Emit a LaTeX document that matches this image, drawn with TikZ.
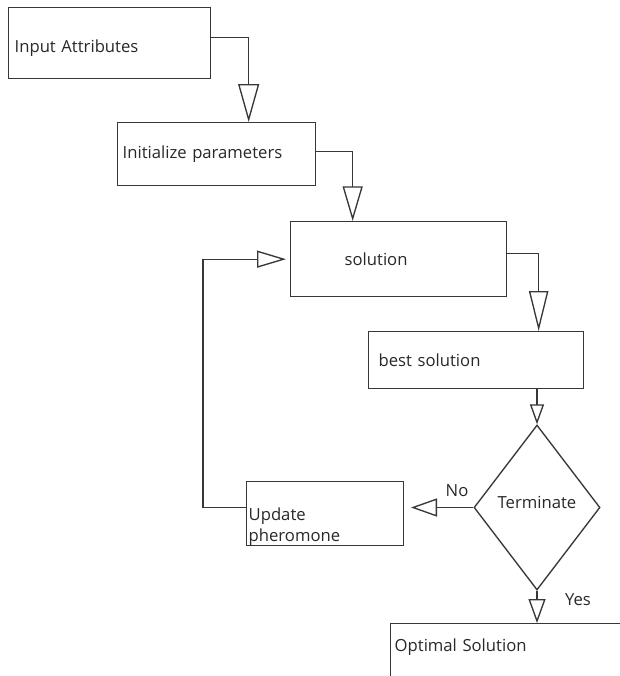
\documentclass[tikz,border=0pt]{standalone}
\usepackage{fontspec}
\setmainfont{Open Sans}
\usepackage{tikz}
\usetikzlibrary{arrows.meta, shapes.geometric}
\definecolor{LineGray}{RGB}{55,55,55}
\definecolor{TextGray}{RGB}{40,40,40}

\begin{document}
\begin{tikzpicture}[x=0.75pt, y=-0.75pt,
    txt/.style={text=TextGray, font=\fontsize{12.5}{15.75}\selectfont},
    box/.style={txt, draw=LineGray, line width=1pt, rectangle, anchor=north west,
                align=left, inner xsep=4.5pt},
    flow/.style 2 args={draw=LineGray, line width=1pt,
                        -{Triangle[open, length=#1, width=#2]}}]
  \useasboundingbox (0,0) rectangle (620,676);
  \fill[white] (0,0) rectangle (620,676);
  \clip (0,0) rectangle (620,676);

  \node[box, text width=142.5pt, minimum height=53.25pt, text height=16.5pt] (inp) at (8,7) {Input Attributes};
  \node[box, text width=141pt, inner xsep=3.75pt, minimum height=47.25pt] (init) at (117,122) {Initialize parameters};
  \node[box, text width=153pt, minimum height=56.25pt] (sol) at (290,221) {\hspace*{36pt}solution};
  \node[box, text width=152.25pt, minimum height=42.75pt] (best) at (368,331) {\hspace*{3pt}best solution};
  \node[txt, diamond, draw=LineGray, line width=1pt, inner sep=0pt, text depth=7.5pt,
        minimum width=94.5pt, minimum height=123.75pt] (term) at (537,507.5) {Terminate};
  \node[box, text width=114.75pt, inner xsep=1.5pt, inner ysep=2pt,
        text height=27pt, text depth=17pt] (upd) at (246,481) {Update\\pheromone};
  \node[box, text width=226.5pt, inner xsep=3pt, text height=17.25pt, text depth=45pt] (opt) at (390,623) {Optimal Solution};

  \node[txt] (no) at (457,491) {No};
  \node[txt] (yes) at (578,600) {Yes};

  \draw[flow={28.5pt}{15.75pt}] ([shift={(0,-5.5)}]inp.east) -| ([shift={(32,0)}]init.north);
  \draw[flow={26pt}{15pt}] ([shift={(0,-2.5)}]init.east) -| ([shift={(-46,0)}]sol.north);
  \draw[flow={30pt}{14.5pt}] ([shift={(0,-5.5)}]sol.east) -| ([shift={(62.5,0)}]best.north);
  \draw[flow={15pt}{10.5pt}] (best.south -| term.north) -- (term.north);
  \draw[flow={19.5pt}{13.5pt}, shorten >=5pt] (term.west) -- (term.west -| upd.east);
  \draw[flow={21.75pt}{12.75pt}, shorten >=3pt] (term.west -| upd.west) -- ++(-43,0) |- (sol.west);
  \draw[flow={18pt}{12.75pt}] (term.south) -- (term.south |- opt.north);
\end{tikzpicture}
\end{document}
